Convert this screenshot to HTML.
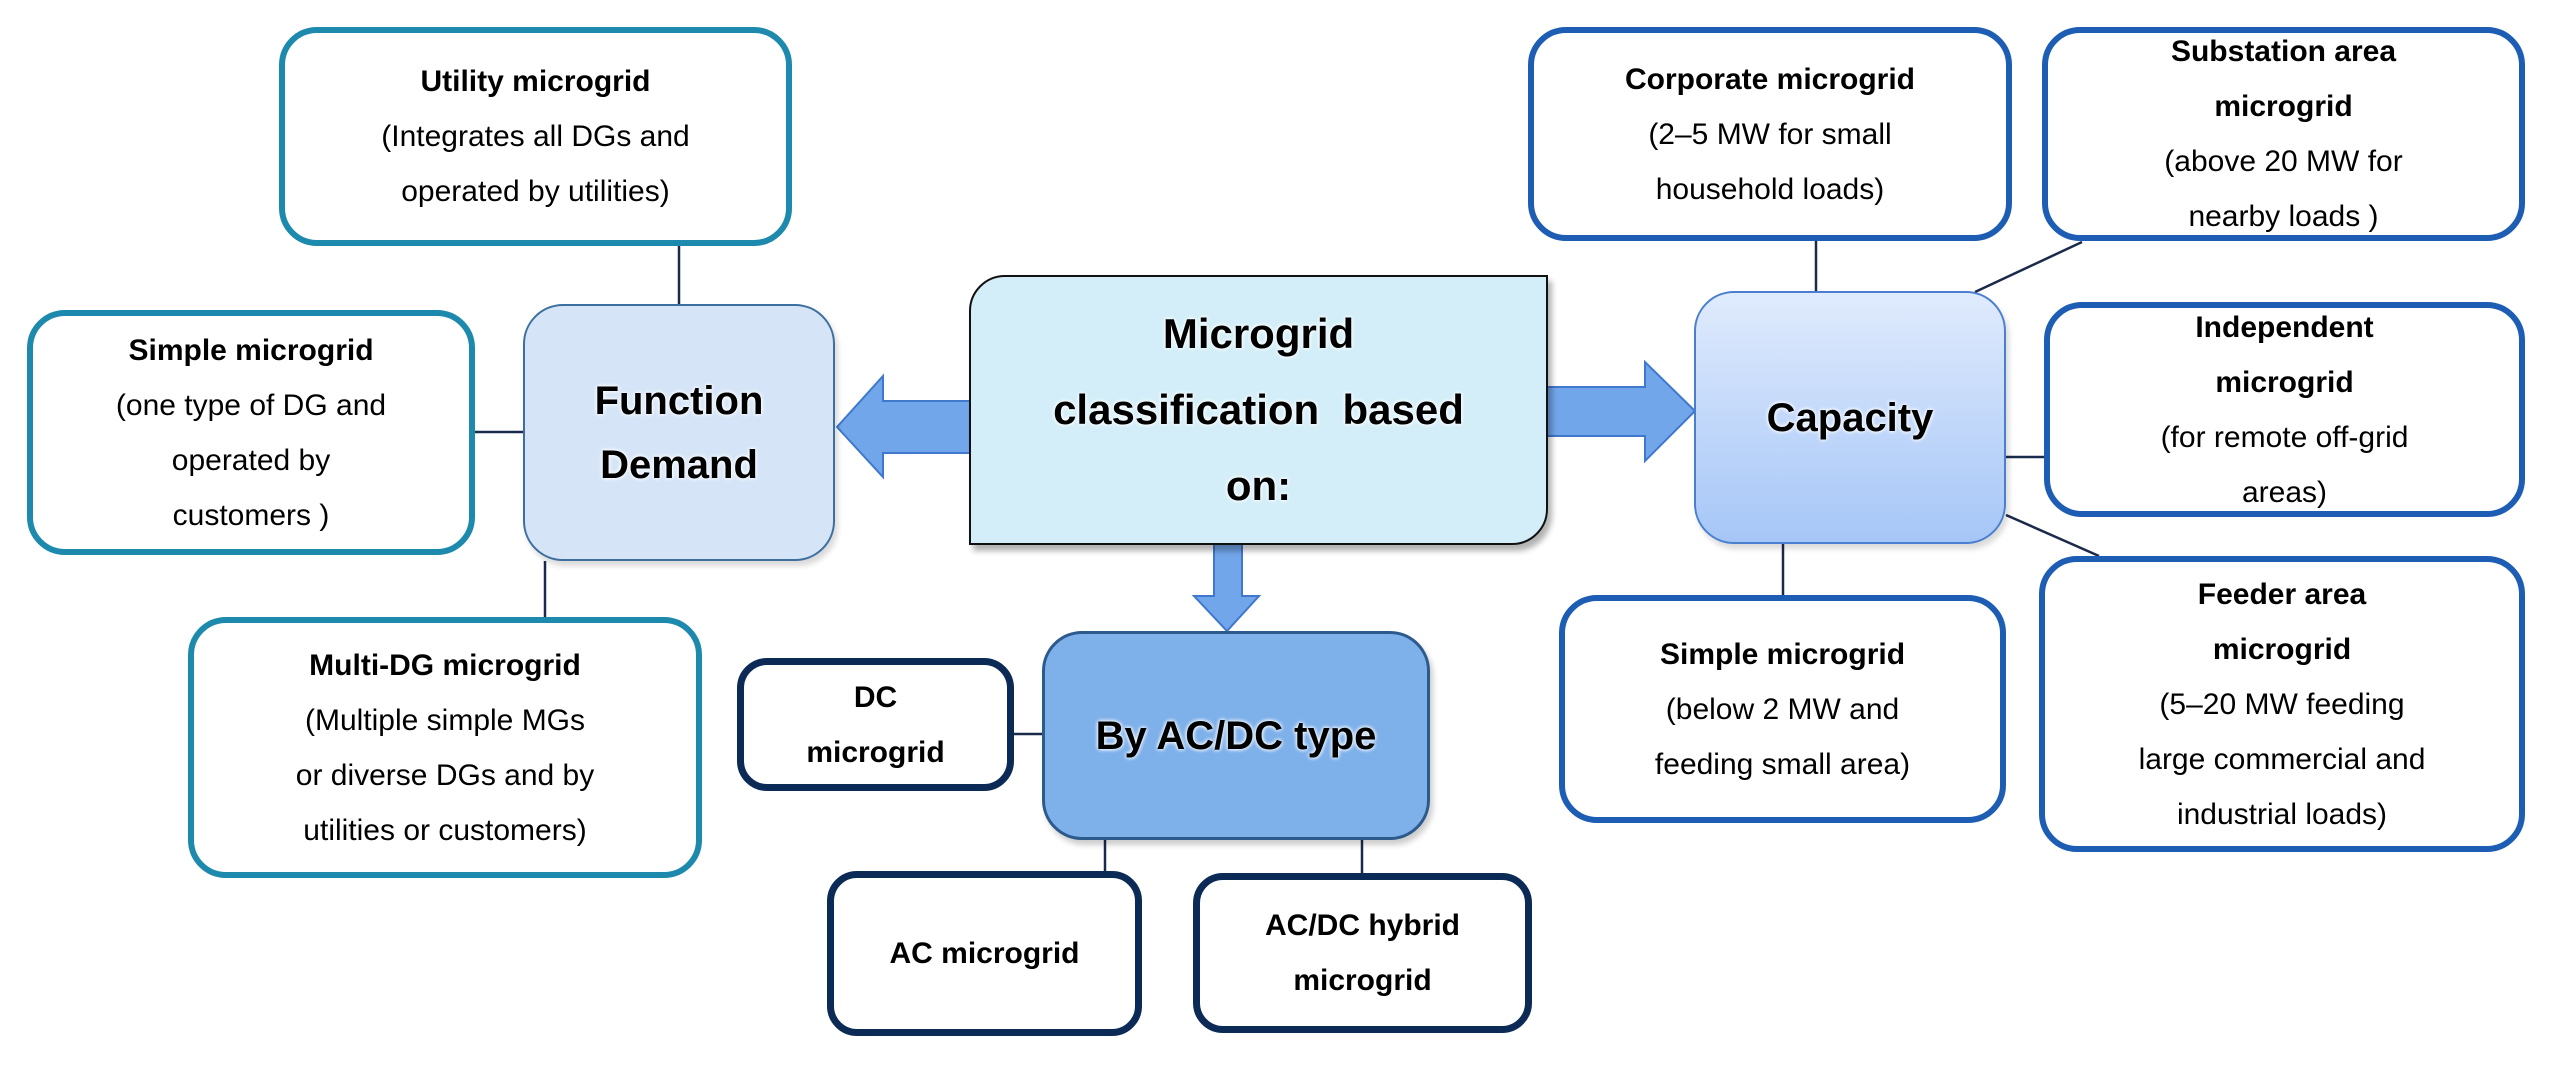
<!DOCTYPE html>
<html><head><meta charset="utf-8"><style>
html,body{margin:0;padding:0;background:#fff;}
body{width:2556px;height:1067px;position:relative;overflow:hidden;font-family:"Liberation Sans",sans-serif;}
.b{position:absolute;box-sizing:border-box;display:flex;flex-direction:column;align-items:center;justify-content:center;text-align:center;color:#000;font-size:30px;line-height:55px;background:#fff;}
.b b{font-weight:bold;}
.t{border:6px solid #1d8aad;border-radius:38px;}
.r{border:6px solid #1e5db4;border-radius:38px;}
.n{border:7px solid #0c2a56;border-radius:30px;}
.big{font-weight:bold;font-size:40px;line-height:64px;text-shadow:0 0 4px #fff,0 0 4px #fff;}
svg{position:absolute;left:0;top:0;}
</style></head><body>
<svg width="2556" height="1067">
<g stroke="#1a2a4a" stroke-width="2.5" fill="none">
<line x1="679" y1="246" x2="679" y2="304"/>
<line x1="475" y1="432" x2="523" y2="432"/>
<line x1="545" y1="561" x2="545" y2="617"/>
<line x1="1014" y1="734" x2="1042" y2="734"/>
<line x1="1105" y1="840" x2="1105" y2="871"/>
<line x1="1362" y1="840" x2="1362" y2="873"/>
<line x1="1816" y1="241" x2="1816" y2="291"/>
<line x1="1975" y1="292" x2="2082" y2="242"/>
<line x1="2006" y1="457" x2="2044" y2="457"/>
<line x1="2006" y1="515" x2="2099" y2="556"/>
<line x1="1783" y1="544" x2="1783" y2="595"/>
</g>
<g fill="#72a6ea" stroke="#3f78cc" stroke-width="2">
<polygon points="975,401 883,401 883,376 837,427 883,477 883,453 975,453"/>
<polygon points="1542,387 1645,387 1645,362 1695,411 1645,461 1645,436 1542,436"/>
<polygon points="1214,540 1242,540 1242,596 1259,596 1227,631 1194,596 1214,596"/>
</g>
</svg>

<div class="b t" style="left:279px;top:27px;width:513px;height:219px;"><b>Utility microgrid</b><span>(Integrates all DGs and</span><span>operated by utilities)</span></div>
<div class="b t" style="left:27px;top:310px;width:448px;height:245px;"><b>Simple microgrid</b><span>(one type of DG and</span><span>operated by</span><span>customers )</span></div>
<div class="b t" style="left:188px;top:617px;width:514px;height:261px;"><b>Multi-DG microgrid</b><span>(Multiple simple MGs</span><span>or diverse DGs and by</span><span>utilities or customers)</span></div>

<div class="b big" style="left:523px;top:304px;width:312px;height:257px;background:#d5e5f7;border:2px solid #3d6f9f;border-radius:40px;box-shadow:3px 5px 6px rgba(0,0,0,0.15);">Function<br>Demand</div>

<div class="b big" style="left:969px;top:275px;width:579px;height:270px;background:#d3eef8;border:2.5px solid #111;border-radius:36px 0 36px 0;box-shadow:4px 6px 6px rgba(0,0,0,0.3);font-size:42px;line-height:76px;">Microgrid<br>classification&nbsp; based<br>on:</div>

<div class="b big" style="left:1694px;top:291px;width:312px;height:253px;background:linear-gradient(#e0ebfd,#a6c6f7);border:2px solid #4a7fd0;border-radius:40px;box-shadow:3px 5px 6px rgba(0,0,0,0.15);">Capacity</div>

<div class="b big" style="left:1042px;top:631px;width:388px;height:209px;background:#7eb0ea;border:3px solid #2d5a8c;border-radius:40px;box-shadow:3px 5px 6px rgba(0,0,0,0.2);">By AC/DC type</div>

<div class="b n" style="left:737px;top:658px;width:277px;height:133px;font-weight:bold;"><span>DC</span><span>microgrid</span></div>
<div class="b n" style="left:827px;top:871px;width:315px;height:165px;font-weight:bold;">AC microgrid</div>
<div class="b n" style="left:1193px;top:873px;width:339px;height:160px;font-weight:bold;"><span>AC/DC hybrid</span><span>microgrid</span></div>

<div class="b r" style="left:1528px;top:27px;width:484px;height:214px;"><b>Corporate microgrid</b><span>(2–5 MW for small</span><span>household loads)</span></div>
<div class="b r" style="left:2042px;top:27px;width:483px;height:214px;"><b>Substation area</b><b>microgrid</b><span>(above 20 MW for</span><span>nearby loads )</span></div>
<div class="b r" style="left:2044px;top:302px;width:481px;height:215px;"><b>Independent</b><b>microgrid</b><span>(for remote off-grid</span><span>areas)</span></div>
<div class="b r" style="left:1559px;top:595px;width:447px;height:228px;"><b>Simple microgrid</b><span>(below 2 MW and</span><span>feeding small area)</span></div>
<div class="b r" style="left:2039px;top:556px;width:486px;height:296px;"><b>Feeder area</b><b>microgrid</b><span>(5–20 MW feeding</span><span>large commercial and</span><span>industrial loads)</span></div>
</body></html>
